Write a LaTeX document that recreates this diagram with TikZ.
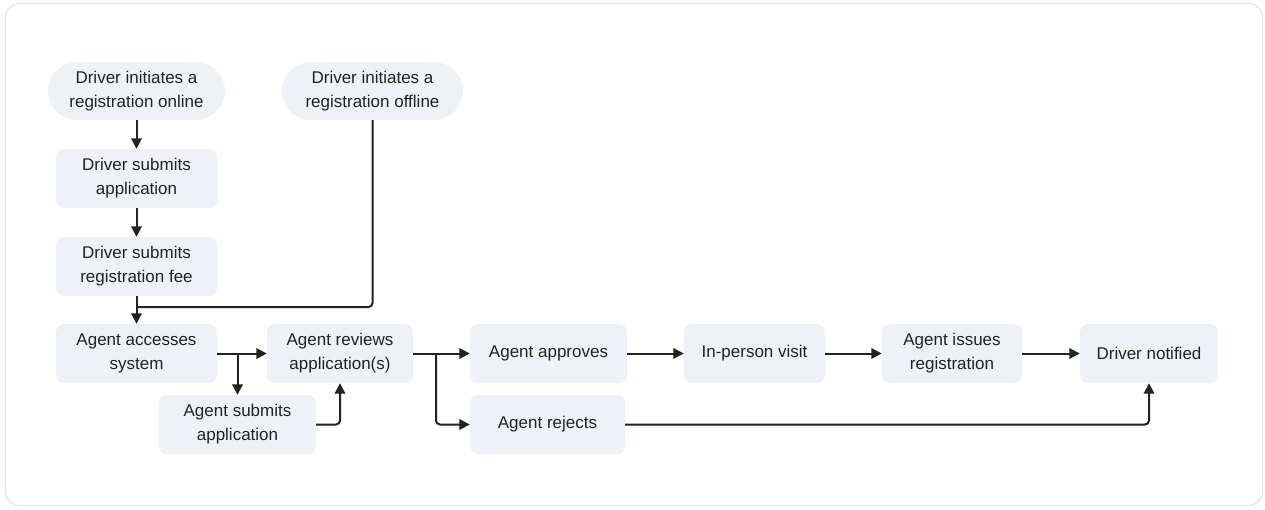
\documentclass[tikz,border=0pt]{standalone}
\usepackage{fontspec}
\setmainfont{Liberation Sans}
\usepackage{tikz}
\usetikzlibrary{arrows.meta}
\definecolor{boxfill}{HTML}{EEF2F7}
\definecolor{ink}{HTML}{222222}
\definecolor{frame}{HTML}{E3E5EA}

\begin{document}
\begin{tikzpicture}[x = 1pt, y = -1pt,
              stepbox/.style = {fill = boxfill, rounded corners = 8pt, minimum height = 59pt, inner sep = 0pt,
                                align = center, text = ink, font = \fontsize{17}{24}\selectfont},
              pill/.style = {stepbox, rounded corners = 29pt, minimum height = 58pt},
              link/.style = {draw = ink, line width = 2pt, rounded corners = 4pt},
              arr/.style = {link, -{Triangle[length = 10.5pt, width = 10.5pt]}}]
              \useasboundingbox (0,0) rectangle (1265,509);
              \draw [frame, line width = 1.2pt, rounded corners = 14pt] (5.5,3.5) rectangle (1262.5,505.5);
              \node [pill, minimum width = 177pt] (online) at (136.5, 91) {Driver initiates a\\registration online};
              \node [pill, minimum width = 181pt] (offline) at (372.5, 91) {Driver initiates a\\registration offline};
              \node [stepbox, minimum width = 161pt] (dsubmit) at (136.5, 178.5) {Driver submits\\application};
              \node [stepbox, minimum width = 161pt] (fee) at (136.5, 266.5) {Driver submits\\registration fee};
              \node [stepbox, minimum width = 161pt] (access) at (136.5, 353.5) {Agent accesses\\system};
              \node [stepbox, minimum width = 146pt] (review) at (340, 353.5) {Agent reviews\\application(s)};
              \node [stepbox, minimum width = 157pt] (asubmit) at (237.5, 424.5) {Agent submits\\application};
              \node [stepbox, minimum width = 157pt] (approve) at (548.5, 353.5) {Agent approves};
              \node [stepbox, minimum width = 155pt] (reject) at (547.5, 424.5) {Agent rejects};
              \node [stepbox, minimum width = 141pt] (visit) at (754.5, 353.5) {In-person visit};
              \node [stepbox, minimum width = 140pt] (issue) at (952, 353.5) {Agent issues\\registration};
              \node [stepbox, minimum width = 138pt] (notify) at (1149, 353.5) {Driver notified};
              \coordinate (merge) at (136.5, 307);
              \coordinate (fork1) at (237.5, 353.5);
              \coordinate (fork2) at (436, 353.5);
              \draw [arr] (online) -- (dsubmit);
              \draw [arr] (dsubmit) -- (fee);
              \draw [arr] (fee) -- (access);
              \draw [link] (offline.south) |- (merge);
              \draw [arr] (access) -- (review);
              \draw [arr] (fork1) -- (asubmit.north);
              \draw [arr] (asubmit.east) -| (review.south);
              \draw [arr] (review) -- (approve);
              \draw [arr] (fork2) |- (reject.west);
              \draw [arr] (approve) -- (visit);
              \draw [arr] (visit) -- (issue);
              \draw [arr] (issue) -- (notify);
              \draw [arr] (reject.east) -| (notify.south);
            \end{tikzpicture}
\end{document}
